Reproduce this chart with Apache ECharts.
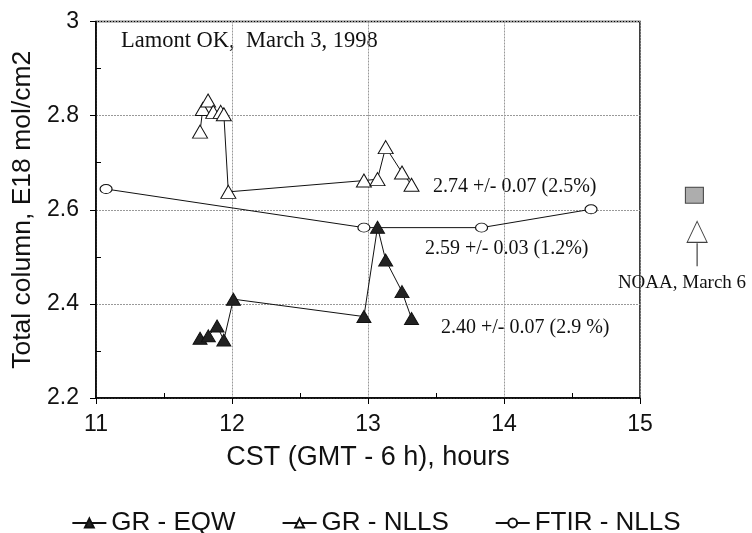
<!DOCTYPE html>
<html>
<head>
<meta charset="utf-8">
<script src="https://cdn.jsdelivr.net/npm/echarts@6/dist/echarts.min.js"></script>
<style>html,body{margin:0;padding:0;background:#fff}#c{width:752px;height:533px}</style>
</head>
<body>
<div id="c"></div>
<script>
// ---- data ----
const eqwX = [11.765, 11.826, 11.89, 11.94, 12.01, 12.97, 13.07, 13.13, 13.25, 13.32];
const eqwY = [2.327, 2.332, 2.353, 2.323, 2.41, 2.373, 2.563, 2.493, 2.426, 2.369];
const nllsX = [11.765, 11.785, 11.824, 11.862, 11.917, 11.94, 11.973, 12.97, 13.07, 13.13, 13.25, 13.32];
const nllsY = [2.766, 2.814, 2.832, 2.808, 2.808, 2.803, 2.638, 2.662, 2.665, 2.733, 2.679, 2.653];
const ftirX = [11.074, 12.97, 13.835, 14.64];
const ftirY = [2.644, 2.562, 2.562, 2.601];
const noaaX = [15.4];
const noaaSquareY = [2.631];
const noaaTriX = [15.42];
const noaaTriY = [2.553];
const noaaLeaderY = [2.5045];
const seriesNames = ['GR - EQW', 'GR - NLLS', 'FTIR - NLLS'];
const xTicks = [11, 12, 13, 14, 15];
const yTicks = [2.2, 2.4, 2.6, 2.8, 3];
const xMinor = [11.5, 12.5, 13.5, 14.5];
const yMinor = [2.3, 2.5, 2.7, 2.9];
const titleText = 'Lamont OK,  March 3, 1998';
const xName = 'CST (GMT - 6 h), hours';
const yName = 'Total column, E18 mol/cm2';
const notes = ['2.74 +/- 0.07 (2.5%)', '2.59 +/- 0.03 (1.2%)', '2.40 +/- 0.07 (2.9 %)', 'NOAA, March 6'];

const zip = (xs, ys) => xs.map((x, i) => [x, ys[i]]);
const sans = '"Liberation Sans", Arial, sans-serif';
const serif = '"Liberation Serif", "Times New Roman", serif';

const chart = echarts.init(document.getElementById('c'), null, {renderer: 'canvas'});
const option = {
  animation: false,
  backgroundColor: '#fff',
  grid: {left: 96, right: 112, top: 21.5, bottom: 135, show: true, borderColor: '#000', borderWidth: 1.5, backgroundColor: 'transparent'},
  xAxis: [{
    type: 'value', min: 11, max: 15, interval: 1,
    name: xName, nameLocation: 'middle', nameGap: 46,
    nameTextStyle: {fontFamily: sans, fontSize: 27, color: '#111'},
    axisLine: {show: true, lineStyle: {color: '#000', width: 1.5}},
    axisTick: {show: true, inside: false, length: 6, lineStyle: {color: '#000'}, customValues: xTicks},
    axisLabel: {fontFamily: sans, fontSize: 23, color: '#111', margin: 15, customValues: xTicks},
    splitLine: {show: true, lineStyle: {color: '#999', type: [2, 1], width: 1}}
  }, {
    type: 'value', min: 11, max: 15, position: 'bottom',
    axisLine: {show: false},
    axisTick: {show: true, inside: true, length: 5, lineStyle: {color: '#000'}, customValues: xMinor},
    axisLabel: {show: false},
    splitLine: {show: false}
  }],
  yAxis: [{
    type: 'value', min: 2.2, max: 3, interval: 0.2,
    name: yName, nameLocation: 'middle', nameGap: 54, nameRotate: 90,
    nameTextStyle: {fontFamily: sans, fontSize: 26.5, color: '#111'},
    axisLine: {show: true, lineStyle: {color: '#000', width: 1.5}},
    axisTick: {show: true, inside: false, length: 6, lineStyle: {color: '#000'}, customValues: yTicks},
    axisLabel: {fontFamily: sans, fontSize: 23, color: '#111', margin: 17, customValues: yTicks,
      formatter: v => (Math.round(v * 10) / 10).toString()},
    splitLine: {show: true, lineStyle: {color: '#999', type: [2, 1], width: 1}}
  }, {
    type: 'value', min: 2.2, max: 3, position: 'left',
    axisLine: {show: false},
    axisTick: {show: true, inside: true, length: 5, lineStyle: {color: '#000'}, customValues: yMinor},
    axisLabel: {show: false},
    splitLine: {show: false}
  }],
  legend: {
    top: 505, left: 'center', itemGap: 46, itemWidth: 34, itemHeight: 11,
    data: seriesNames,
    textStyle: {fontFamily: sans, fontSize: 26, color: '#111'}
  },
  series: [{
    name: seriesNames[0], type: 'line', data: zip(eqwX, eqwY),
    symbol: 'triangle', symbolSize: [14, 12], showAllSymbol: true,
    lineStyle: {color: '#111', width: 1},
    itemStyle: {color: '#222', borderColor: '#111', borderWidth: 1},
    z: 3
  }, {
    name: seriesNames[1], type: 'line', data: zip(nllsX, nllsY),
    symbol: 'triangle', symbolSize: [15, 13], showAllSymbol: true,
    lineStyle: {color: '#111', width: 1},
    itemStyle: {color: '#fff', borderColor: '#111', borderWidth: 1},
    z: 3
  }, {
    name: seriesNames[2], type: 'line', data: zip(ftirX, ftirY),
    symbol: 'circle', symbolSize: [12, 9], showAllSymbol: true,
    lineStyle: {color: '#111', width: 1},
    itemStyle: {color: '#fff', borderColor: '#111', borderWidth: 1},
    z: 2
  }, {
    name: 'NOAA square', type: 'scatter', data: zip(noaaX, noaaSquareY), clip: false,
    symbol: 'rect', symbolSize: [18, 16],
    itemStyle: {color: '#999', borderColor: '#222', borderWidth: 1}
  }, {
    name: 'NOAA leader', type: 'scatter', data: zip(noaaTriX, noaaLeaderY), clip: false,
    symbol: 'rect', symbolSize: [1.2, 23],
    itemStyle: {color: '#111'}
  }, {
    name: 'NOAA triangle', type: 'scatter', data: zip(noaaTriX, noaaTriY), clip: false,
    symbol: 'triangle', symbolSize: [20, 21],
    itemStyle: {color: '#fff', borderColor: '#111', borderWidth: 1}
  }],
  graphic: [
    {type: 'text', x: 121, y: 41, style: {text: titleText, font: '22.5px ' + serif, fill: '#111', textVerticalAlign: 'middle'}},
    {type: 'text', x: 433, y: 187, style: {text: notes[0], font: '20px ' + serif, fill: '#111', textVerticalAlign: 'middle'}},
    {type: 'text', x: 425, y: 249, style: {text: notes[1], font: '20px ' + serif, fill: '#111', textVerticalAlign: 'middle'}},
    {type: 'text', x: 441, y: 328, style: {text: notes[2], font: '20px ' + serif, fill: '#111', textVerticalAlign: 'middle'}},
    {type: 'text', x: 682, y: 283, style: {text: notes[3], font: '19px ' + serif, fill: '#111', textAlign: 'center', textVerticalAlign: 'middle'}}
  ]
};
chart.setOption(option);
</script>
</body>
</html>
